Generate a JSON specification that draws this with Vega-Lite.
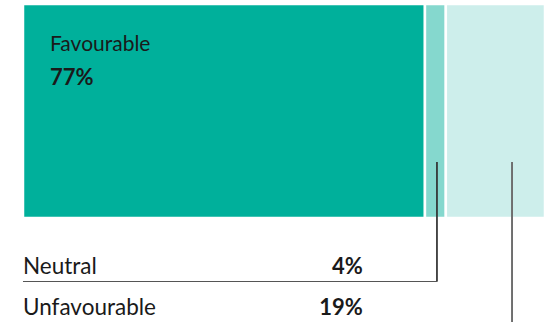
{
  "$schema": "https://vega.github.io/schema/vega-lite/v6.json",
  "width": 550,
  "height": 322,
  "padding": 0,
  "autosize": "none",
  "background": "white",
  "config": {"view": {"stroke": null}, "text": {"font": "Lato"}},
  "datasets": {
    "bars": [
      {"category": "Favourable", "value": 77, "order": 1, "label": "77%"},
      {"category": "Neutral", "value": 4, "order": 2, "label": "4%"},
      {"category": "Unfavourable", "value": 19, "order": 3, "label": "19%"}
    ]
  },
  "data": {"name": "bars"},
  "layer": [
    {
      "transform": [{"stack": "value", "groupby": [], "sort": [{"field": "order"}], "as": ["x0", "x1"]}],
      "mark": {"type": "rect", "stroke": "white", "strokeWidth": 2.5},
      "encoding": {
        "x": {"field": "x0", "type": "quantitative", "scale": {"domain": [-4.406, 100.958], "nice": false, "zero": false}, "axis": null},
        "x2": {"field": "x1"},
        "color": {"field": "category", "type": "nominal", "scale": {"domain": ["Favourable", "Neutral", "Unfavourable"], "range": ["#00b09b", "#85d8ce", "#cdeeeb"]}, "legend": null},
        "y": {"datum": 4, "type": "quantitative", "scale": {"domain": [0, 322], "reverse": true, "nice": false, "zero": false}, "axis": null},
        "y2": {"datum": 218}
      }
    },
    {
      "mark": {"type": "rule", "color": "#333333", "strokeWidth": 1},
      "encoding": {"x": {"datum": 79.3, "type": "quantitative"}, "y": {"datum": 162, "type": "quantitative"}, "y2": {"datum": 281.5}}
    },
    {
      "mark": {"type": "rule", "color": "#555555", "strokeWidth": 1.2},
      "encoding": {"x": {"datum": 0, "type": "quantitative"}, "x2": {"datum": 79.3}, "y": {"datum": 281.5, "type": "quantitative"}}
    },
    {
      "mark": {"type": "rule", "color": "#6e6e6e", "strokeWidth": 1.5},
      "encoding": {"x": {"datum": 93.7, "type": "quantitative"}, "y": {"datum": 162, "type": "quantitative"}, "y2": {"datum": 322}}
    },
    {
      "transform": [{"filter": "datum.category === 'Favourable'"}],
      "mark": {"type": "text", "align": "left", "baseline": "alphabetic", "fontSize": 21, "color": "#1a1a1a"},
      "encoding": {"text": {"field": "category"}, "x": {"datum": 5.17, "type": "quantitative"}, "y": {"datum": 51, "type": "quantitative"}}
    },
    {
      "transform": [{"filter": "datum.category === 'Favourable'"}],
      "mark": {"type": "text", "align": "left", "baseline": "alphabetic", "fontSize": 22, "fontWeight": "bold", "color": "#1a1a1a"},
      "encoding": {"text": {"field": "label"}, "x": {"datum": 5.17, "type": "quantitative"}, "y": {"datum": 84.5, "type": "quantitative"}}
    },
    {
      "transform": [{"filter": "datum.category === 'Neutral'"}],
      "mark": {"type": "text", "align": "left", "baseline": "alphabetic", "fontSize": 22.5, "color": "#1a1a1a"},
      "encoding": {"text": {"field": "category"}, "x": {"datum": 0, "type": "quantitative"}, "y": {"datum": 273.5, "type": "quantitative"}}
    },
    {
      "transform": [{"filter": "datum.category === 'Neutral'"}],
      "mark": {"type": "text", "align": "right", "baseline": "alphabetic", "fontSize": 22, "fontWeight": "bold", "color": "#1a1a1a"},
      "encoding": {"text": {"field": "label"}, "x": {"datum": 65.1, "type": "quantitative"}, "y": {"datum": 273.5, "type": "quantitative"}}
    },
    {
      "transform": [{"filter": "datum.category === 'Unfavourable'"}],
      "mark": {"type": "text", "align": "left", "baseline": "alphabetic", "fontSize": 22.5, "color": "#1a1a1a"},
      "encoding": {"text": {"field": "category"}, "x": {"datum": 0, "type": "quantitative"}, "y": {"datum": 315, "type": "quantitative"}}
    },
    {
      "transform": [{"filter": "datum.category === 'Unfavourable'"}],
      "mark": {"type": "text", "align": "right", "baseline": "alphabetic", "fontSize": 22, "fontWeight": "bold", "color": "#1a1a1a"},
      "encoding": {"text": {"field": "label"}, "x": {"datum": 65.1, "type": "quantitative"}, "y": {"datum": 315, "type": "quantitative"}}
    }
  ]
}
